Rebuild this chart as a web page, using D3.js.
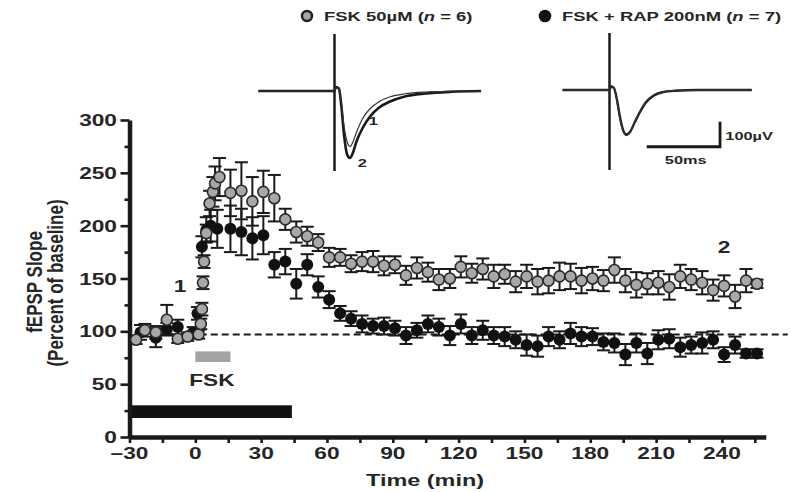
<!DOCTYPE html>
<html lang="en">
<head>
<meta charset="UTF-8">
<title>FSK / RAP fEPSP slope</title>
<style>
  * { margin: 0; padding: 0; }
  body { background: #fff; }
  svg { display: block; font-family: "Liberation Sans", Arial, sans-serif; font-weight: bold; }
</style>
</head>
<body>
<div id="chart-area"></div>
<script src="https://cdn.jsdelivr.net/npm/d3@7/dist/d3.min.js"></script>
<script>
// FSK 50uM (gray circles): time (min), mean slope (% of baseline), s.e.m.
const fskTime = [-27, -23, -18, -13, -8, -3.5, 1.5, 2.5, 3, 3.5, 4, 5, 6.5, 8, 9, 11, 16, 21, 26, 31, 36, 41,
  46, 51, 56, 61, 66, 71, 76, 81, 86, 91, 96, 101, 106, 111, 116, 121, 126, 131, 136, 141, 146, 151, 156,
  161, 166, 171, 176, 181, 186, 191, 196, 201, 206, 211, 216, 221, 226, 231, 236, 241, 246, 251, 256]
const fskMean = [92, 101, 99, 111, 93, 95, 97, 107, 121, 146, 166, 193, 221, 232, 240, 246, 231, 233, 223, 232, 226, 206,
  194, 190, 184, 170, 170, 164, 166, 166, 162, 163, 153, 160, 156, 149, 150, 161, 155, 159, 152, 154, 147, 152, 147,
  148, 152, 152, 148, 150, 148, 158, 148, 144, 145, 146, 142, 152, 149, 146, 139, 143, 133, 148, 145]
const fskSem = [4, 6, 6, 14, 4, 4, 4, 5, 6, 6, 6, 8, 12, 14, 16, 18, 22, 27, 23, 20, 22, 10,
  10, 9, 8, 9, 8, 8, 9, 10, 9, 8, 9, 10, 9, 10, 9, 10, 9, 10, 11, 9, 10, 11, 12,
  12, 13, 12, 12, 11, 10, 12, 11, 12, 10, 11, 12, 11, 10, 11, 10, 10, 11, 11, 4]

// FSK + RAP 200nM (black circles)
const rapTime = [-25, -18, -13, -8, -1, 1, 3, 5, 7, 10, 16, 21, 26, 31, 36, 41,
  46, 51, 56, 61, 66, 71, 76, 81, 86, 91, 96, 101, 106, 111, 116, 121, 126, 131, 136, 141, 146, 151, 156,
  161, 166, 171, 176, 181, 186, 191, 196, 201, 206, 211, 216, 221, 226, 231, 236, 241, 246, 251, 256]
const rapMean = [99, 94, 102, 104, 99, 117, 180, 196, 200, 197, 197, 194, 188, 191, 163, 166,
  145, 163, 142, 130, 117, 112, 107, 105, 105, 103, 96, 101, 107, 104, 96, 107, 96, 101, 96, 95, 92, 87, 86,
  95, 92, 98, 95, 95, 90, 89, 78, 89, 79, 92, 93, 85, 87, 89, 92, 78, 87, 79, 79]
const rapSem = [7, 9, 6, 7, 5, 6, 10, 12, 15, 18, 22, 22, 20, 18, 12, 12,
  14, 10, 10, 8, 7, 7, 8, 7, 8, 7, 8, 7, 8, 8, 9, 9, 8, 9, 8, 9, 8, 10, 10,
  9, 8, 10, 9, 8, 8, 9, 10, 9, 10, 9, 9, 9, 8, 10, 8, 7, 8, 4, 4]

const xTickValues = [-30, 0, 30, 60, 90, 120, 150, 180, 210, 240]
const xTickLabels = ['\u201330', '0', '30', '60', '90', '120', '150', '180', '210', '240']
const xMinorTicks = [-15, 15, 45, 75, 105, 135, 165, 195, 225, 255]
const yTickValues = [0, 50, 100, 150, 200, 250, 300]
const yMinorTicks = [25, 75, 125, 175, 225, 275]
const baselineLevel = 97
const fskBar = [0, 16, 71, 81]      // min start, min end, % low, % high
const rapBar = [-30, 44, 18, 30]
const fskBarLabel = 'FSK'
const pointLabels = [['1', -7, 137], ['2', 241, 174]]

// inset sweeps: [ms after stimulus, uV]
const stimArtifact = [228, -320]
const fskTrace1 = [[-52, 0], [0, 0], [1, 16], [3, 10], [4.5, -40], [6.5, -140], [8.5, -200], [10.5, -222],
  [12.5, -205], [15, -165], [19, -112], [24, -72], [30, -44], [38, -23], [48, -11], [62, -4], [80, -1], [100, 0]]
const fskTrace2 = [[-52, 0], [0, 0], [1, 16], [3, 10], [4.5, -50], [6.5, -175], [8.5, -252], [10.5, -268],
  [12.5, -248], [15, -202], [19, -150], [24, -104], [30, -68], [38, -42], [48, -22], [62, -10], [80, -3], [100, 0]]
const rapTrace1 = [[-32, 0], [0, 0], [1, 16], [3, 10], [5, -40], [7, -110], [9, -160], [11.5, -182],
  [14, -170], [17, -130], [21, -82], [25, -45], [30, -20], [36, -8], [45, -2], [60, 0], [97, 0]]
const rapTrace2 = [[-32, 0], [0, 0], [1, 14], [3, 8], [5, -36], [7, -104], [9, -155], [11.5, -178],
  [14, -168], [17, -132], [21, -86], [25, -49], [30, -23], [36, -9], [45, -3], [60, 0], [97, 0]]

const W = 790, H = 492
const SX = 1.42   // lettering in the figure is drawn wide
const ink = '#1a1a1a'
const textInk = '#262626'
const grayFill = '#a8a8a8'

const svg = d3.select('#chart-area').append('svg')
  .attr('width', W)
  .attr('height', H)
  .style('background-color', 'white')

const x = d3.scaleLinear().domain([-30, 260]).range([129.5, 765.8])
const y = d3.scaleLinear().domain([0, 300]).range([437, 120])

function wideText(g, px, py, size, anchor) {
  return g.append('text')
    .attr('transform', `translate(${px},${py}) scale(${SX},1)`)
    .attr('text-anchor', anchor || 'middle')
    .attr('fill', textInk)
    .style('font-size', size + 'px')
}

// bars under the data
const bars = svg.append('g')
bars.append('rect')
  .attr('x', x(rapBar[0])).attr('y', y(rapBar[3]))
  .attr('width', x(rapBar[1]) - x(rapBar[0]))
  .attr('height', y(rapBar[2]) - y(rapBar[3]))
  .attr('fill', '#111')
bars.append('rect')
  .attr('x', x(fskBar[0])).attr('y', y(fskBar[3]))
  .attr('width', x(fskBar[1]) - x(fskBar[0]))
  .attr('height', y(fskBar[2]) - y(fskBar[3]))
  .attr('fill', '#a3a3a3')
wideText(bars, x((fskBar[0] + fskBar[1]) / 2) - 1, y(48), 16).text(fskBarLabel)

// dashed baseline (only shows from the end of the baseline points onward)
svg.append('line')
  .attr('x1', x(2)).attr('x2', x(270))
  .attr('y1', y(baselineLevel)).attr('y2', y(baselineLevel))
  .attr('stroke', ink).attr('stroke-width', 2)
  .attr('stroke-dasharray', '7,4')

// axes
const xAxis = svg.append('g').attr('transform', `translate(0,${y(0)})`)
xAxis.call(d3.axisBottom(x).tickValues(xTickValues.concat(xMinorTicks)).tickFormat('').tickSize(6).tickSizeOuter(0))
const yAxis = svg.append('g').attr('transform', `translate(${x(-30)},0)`)
yAxis.call(d3.axisLeft(y).tickValues(yTickValues).tickFormat('').tickSize(9).tickSizeOuter(0))
yAxis.call(g => g.append('g').call(d3.axisLeft(y).tickValues(yMinorTicks).tickFormat('').tickSize(5).tickSizeOuter(0)))
svg.selectAll('.domain').attr('stroke', ink).attr('stroke-width', 4.5)
svg.selectAll('.tick line').attr('stroke', ink).attr('stroke-width', 2.6)
svg.selectAll('.domain').filter(function () { return this.parentNode !== yAxis.node() && this.parentNode !== xAxis.node() }).remove()

xTickValues.forEach((v, i) => {
  wideText(svg, x(v), 459, 16).text(xTickLabels[i])
})
yTickValues.forEach(v => {
  wideText(svg, 117, y(v) + 6, 16, 'end').text(v)
})
wideText(svg, 425, 486, 16.5).text('Time (min)')

// rotated title: glyph height is stretched the same way as the wide lettering
svg.append('text')
  .attr('transform', 'translate(42,282) rotate(-90) scale(1,1.25)')
  .attr('text-anchor', 'middle').attr('fill', textInk)
  .style('font-size', '17px').text('fEPSP Slope')
svg.append('text')
  .attr('transform', 'translate(63,283) rotate(-90) scale(1,1.25)')
  .attr('text-anchor', 'middle').attr('fill', textInk)
  .style('font-size', '17px').text('(Percent of baseline)')

// data
const fsk = fskTime.map((t, i) => ({ t, m: fskMean[i], s: fskSem[i] }))
const rap = rapTime.map((t, i) => ({ t, m: rapMean[i], s: rapSem[i] }))

function errorBars(data) {
  const g = svg.append('g').attr('stroke', ink).attr('stroke-width', 2)
  const cap = 6.5
  const sel = g.selectAll('g').data(data).enter().append('g')
  sel.append('line')
    .attr('x1', d => x(d.t)).attr('x2', d => x(d.t))
    .attr('y1', d => y(d.m - d.s)).attr('y2', d => y(d.m + d.s))
  sel.append('line')
    .attr('x1', d => x(d.t) - cap).attr('x2', d => x(d.t) + cap)
    .attr('y1', d => y(d.m + d.s)).attr('y2', d => y(d.m + d.s))
  sel.append('line')
    .attr('x1', d => x(d.t) - cap).attr('x2', d => x(d.t) + cap)
    .attr('y1', d => y(d.m - d.s)).attr('y2', d => y(d.m - d.s))
}
errorBars(fsk)
errorBars(rap)

svg.append('g').selectAll('circle').data(rap).enter().append('circle')
  .attr('cx', d => x(d.t)).attr('cy', d => y(d.m)).attr('r', 6)
  .attr('fill', '#111')
svg.append('g').selectAll('circle').data(fsk).enter().append('circle')
  .attr('cx', d => x(d.t)).attr('cy', d => y(d.m)).attr('r', 5.5)
  .attr('fill', grayFill).attr('stroke', '#2a2a2a').attr('stroke-width', 1.6)

pointLabels.forEach(p => {
  wideText(svg, x(p[1]), y(p[2]), 16).text(p[0])
})

// legend
svg.append('circle').attr('cx', 307).attr('cy', 16).attr('r', 5)
  .attr('fill', grayFill).attr('stroke', '#222').attr('stroke-width', 2.5)
const leg1 = wideText(svg, 324, 20.5, 13, 'start')
leg1.append('tspan').text('FSK 50\u00b5M (')
leg1.append('tspan').style('font-style', 'italic').text('n')
leg1.append('tspan').text(' = 6)')
svg.append('circle').attr('cx', 545).attr('cy', 16).attr('r', 6.3).attr('fill', '#111')
const leg2 = wideText(svg, 562, 20.5, 13, 'start')
leg2.append('tspan').text('FSK + RAP 200nM (')
leg2.append('tspan').style('font-style', 'italic').text('n')
leg2.append('tspan').text(' = 7)')

// inset sweeps
const insets = [
  { x0: 334.5, y0: 91, traces: [fskTrace2, fskTrace1], widths: [2.6, 1.2] },
  { x0: 609.5, y0: 90, traces: [rapTrace2, rapTrace1], widths: [2.4, 1.4] }
]
insets.forEach(inset => {
  const xs = d3.scaleLinear().domain([0, 50]).range([inset.x0, inset.x0 + 73.3])
  const ys = d3.scaleLinear().domain([0, 100]).range([inset.y0, inset.y0 - 25])
  inset.xs = xs
  inset.ys = ys
  const g = svg.append('g')
  g.append('line')
    .attr('x1', xs(0)).attr('x2', xs(0))
    .attr('y1', ys(stimArtifact[0])).attr('y2', ys(stimArtifact[1]))
    .attr('stroke', ink).attr('stroke-width', 2.5)
  const line = d3.line().x(d => xs(d[0])).y(d => ys(d[1])).curve(d3.curveMonotoneX)
  inset.traces.forEach((tr, i) => {
    g.append('path').datum(tr)
      .attr('d', line)
      .attr('fill', 'none')
      .attr('stroke', i === 0 ? ink : '#333')
      .attr('stroke-width', inset.widths[i])
  })
})
const left = insets[0]
wideText(svg, left.xs(26.5), left.ys(-135), 11.5).text('1')
wideText(svg, left.xs(19), left.ys(-305), 11.5).text('2')

// scale bar on the right sweep
const right = insets[1]
const sb = d3.path()
sb.moveTo(right.xs(25.4), right.ys(-227))
sb.lineTo(right.xs(75.4), right.ys(-227))
sb.lineTo(right.xs(75.4), right.ys(-127))
svg.append('path').attr('d', sb.toString())
  .attr('fill', 'none').attr('stroke', ink).attr('stroke-width', 2.8)
wideText(svg, right.xs(79), right.ys(-182) + 4, 11.5, 'start').text('100\u00b5V')
wideText(svg, right.xs(52), right.ys(-297), 11.5).text('50ms')
</script>
</body>
</html>
